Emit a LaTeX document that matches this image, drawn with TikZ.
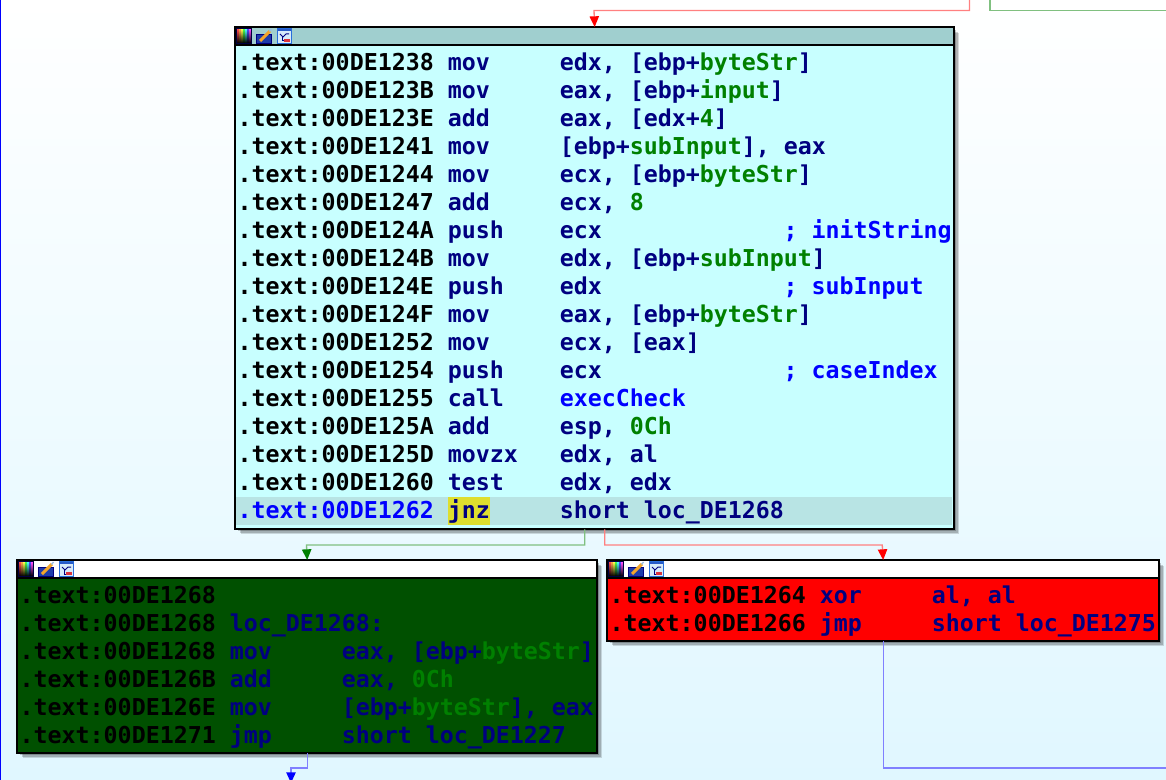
\documentclass[tikz,border=0pt]{standalone}
\usepackage{fontspec}
\usetikzlibrary{arrows.meta}
\newfontfamily\idafont{DejaVu Sans Mono}

\definecolor{asmaddr}{RGB}{0,0,0}
\definecolor{asmins}{RGB}{0,0,128}
\definecolor{asmvar}{RGB}{0,128,0}
\definecolor{asmcom}{RGB}{0,0,255}
\definecolor{mainbody}{RGB}{200,255,255}
\definecolor{mainhead}{RGB}{160,207,207}
\definecolor{mainsel}{RGB}{184,228,228}
\definecolor{jnzmark}{RGB}{222,222,46}
\definecolor{leftbody}{RGB}{0,80,0}

\newcommand{\asmv}[1]{\textcolor{asmvar}{#1}}
\newcommand{\asmline}[3]{\textcolor{asmaddr}{.text:#1} \makebox[84pt][l]{\textcolor{asmins}{#2}}\textcolor{asmins}{#3}}

\tikzset{every picture/.style={line width=0.75pt}}
\tikzset{
  asmtext/.style={anchor=base west,inner sep=0pt,font=\idafont\bfseries\fontsize{17.45pt}{21pt}\selectfont},
  asmnote/.style={asmtext,text=asmcom},
  idablock/.style={draw=black,anchor=north west,inner sep=0pt,line width=1pt,
    preaction={fill=black,opacity=.14,transform canvas={shift={(4.2pt,-4.2pt)}}},
    preaction={fill=black,opacity=.18,transform canvas={shift={(3pt,-3pt)}}},
    preaction={fill=black,opacity=.22,transform canvas={shift={(1.8pt,-1.8pt)}}}},
  redflow/.style={line width=1pt,draw={rgb,255:red,255;green,128;blue,128},-{Triangle[length=8pt,width=7pt,color=red]}},
  greenflow/.style={line width=1pt,draw={rgb,255:red,128;green,192;blue,128},-{Triangle[length=8pt,width=7pt,color={rgb,255:red,0;green,128;blue,0}]}},
  blueflow/.style={line width=1pt,draw={rgb,255:red,128;green,128;blue,255},-{Triangle[length=8pt,width=7pt,color=blue]}},
  idaicons/.pic={
    %rainbow swatch
    \foreach \hue [count=\k from 0] in {red,orange,yellow,green,cyan,blue,magenta}
      {\shade [top color=\hue!70!white,bottom color=black,shading angle=0] (\k*2+1,1) rectangle (\k*2+3,15);}
    \draw [line width=1pt,draw={rgb,255:red,0;green,0;blue,64}] (0.5,0.5) rectangle (15.5,15.5);
    %pencil
    \fill [fill={rgb,255:red,30;green,60;blue,170}] (20,6) rectangle (36,16);
    \draw [draw={rgb,255:red,0;green,0;blue,128}] (20.5,6.5) rectangle (35.5,15.5);
    \draw [line width=2.2pt,draw={rgb,255:red,245;green,165;blue,40}] (24,13) -- (34,3);
    \draw [line width=1pt,draw={rgb,255:red,150;green,190;blue,230}] (33.5,3.5) -- (35.5,1);
    %graph
    \fill [fill={rgb,255:red,215;green,235;blue,250}] (41,0) rectangle (56,16);
    \draw [draw={rgb,255:red,40;green,110;blue,220}] (41.5,0.5) rectangle (55.5,15.5);
    \fill [fill={rgb,255:red,40;green,90;blue,200}] (42,1) rectangle (55,3);
    \draw [draw={rgb,255:red,0;green,0;blue,128}] (44,6) -- (47,9) -- (50,6) -- (53,6);
    \draw [draw={rgb,255:red,0;green,0;blue,128}] (46,9) -- (46,13) -- (48,13);
    \fill [fill={rgb,255:red,220;green,50;blue,60}] (48,11) rectangle (54,14);
  }
}

\begin{document}
\begin{tikzpicture}[x=0.75pt,y=0.75pt,yscale=-1,xscale=1]
\useasboundingbox (0,0) rectangle (1166,780);

%Shape: Background
\shade [top color=white,bottom color={rgb,255:red,224;green,247;blue,255},shading angle=0] (0,0) rectangle (1166,780);

%Free ends
\coordinate (edgetop) at (0.5,0);
\coordinate (edgebottom) at (0.5,780);
\coordinate (redtop) at (969.5,0);
\coordinate (greentop) at (990,0);
\coordinate (greenright) at (1166,10.5);
\coordinate (blueright) at (1166,768);
\coordinate (bluebottom) at (291,783);

%Shape: Blocks
\node (mainbox) [idablock,fill=mainbody,minimum width=538.5pt,minimum height=375.75pt] at (235,27) {};
\node (leftbox) [idablock,fill=leftbody,minimum width=434.25pt,minimum height=144pt] at (17,560) {};
\node (rightbox) [idablock,fill=red,minimum width=413.25pt,minimum height=60pt] at (607,560) {};

%Shape: Headers
\fill [fill=mainhead] (235,27) rectangle (953,45);
\fill [fill=white] (17,560) rectangle (596,578);
\fill [fill=white] (607,560) rectangle (1157.5,578);
\draw [line width=1pt] (235,45) -- (953,45);
\draw [line width=1pt] (17,578) -- (596,578);
\draw [line width=1pt] (607,578) -- (1157.5,578);
\draw [line width=1pt] (mainbox.north west) rectangle (mainbox.south east);
\draw [line width=1pt] (leftbox.north west) rectangle (leftbox.south east);
\draw [line width=1pt] (rightbox.north west) rectangle (rightbox.south east);
\pic [yscale=-1] at (236,28) {idaicons};
\pic [yscale=-1] at (18,561) {idaicons};
\pic [yscale=-1] at (608,561) {idaicons};

%Shape: Selected line
\fill [fill=mainsel] (236,497) rectangle (952,525);
\fill [fill=jnzmark] (447.5,497) rectangle (489.5,525);

%Straight Lines
\draw [blue] (edgetop) -- (edgebottom);
\draw [redflow] (redtop) |- (594,10.5) -- (mainbox.north);
\draw [greenflow,-] (greentop) |- (greenright);
\draw [greenflow] ([xshift=-7.5pt]mainbox.south) |- (306.5,545) -- (leftbox.north);
\draw [redflow] ([xshift=7.5pt]mainbox.south) |- (882.25,545) -- (rightbox.north);
\draw [blueflow] (leftbox.south) |- (291,768) -- (bluebottom);
\draw [blueflow,-] (rightbox.south) |- (blueright);

% Text Node
\node (main1) [asmtext] at (237.2,70.8) {\asmline{00DE1238}{mov}{edx, [ebp+\asmv{byteStr}]}};
\node (main2) [asmtext] at (237.2,98.8) {\asmline{00DE123B}{mov}{eax, [ebp+\asmv{input}]}};
\node (main3) [asmtext] at (237.2,126.8) {\asmline{00DE123E}{add}{eax, [edx+\asmv{4}]}};
\node (main4) [asmtext] at (237.2,154.8) {\asmline{00DE1241}{mov}{[ebp+\asmv{subInput}], eax}};
\node (main5) [asmtext] at (237.2,182.8) {\asmline{00DE1244}{mov}{ecx, [ebp+\asmv{byteStr}]}};
\node (main6) [asmtext] at (237.2,210.8) {\asmline{00DE1247}{add}{ecx, \asmv{8}}};
\node (main7) [asmtext] at (237.2,238.8) {\asmline{00DE124A}{push}{ecx}};
\node (main8) [asmtext] at (237.2,266.8) {\asmline{00DE124B}{mov}{edx, [ebp+\asmv{subInput}]}};
\node (main9) [asmtext] at (237.2,294.8) {\asmline{00DE124E}{push}{edx}};
\node (main10) [asmtext] at (237.2,322.8) {\asmline{00DE124F}{mov}{eax, [ebp+\asmv{byteStr}]}};
\node (main11) [asmtext] at (237.2,350.8) {\asmline{00DE1252}{mov}{ecx, [eax]}};
\node (main12) [asmtext] at (237.2,378.8) {\asmline{00DE1254}{push}{ecx}};
\node (main13) [asmtext] at (237.2,406.8) {\asmline{00DE1255}{call}{\textcolor{asmcom}{execCheck}}};
\node (main14) [asmtext] at (237.2,434.8) {\asmline{00DE125A}{add}{esp, \asmv{0Ch}}};
\node (main15) [asmtext] at (237.2,462.8) {\asmline{00DE125D}{movzx}{edx, al}};
\node (main16) [asmtext] at (237.2,490.8) {\asmline{00DE1260}{test}{edx, edx}};
\node (main17) [asmtext] at (237.2,518.8) {\textcolor{asmcom}{.text:00DE1262} \makebox[84pt][l]{\textcolor{asmins}{jnz}}\textcolor{asmins}{short loc\_DE1268}};
% Text Node
\node (note7) [asmnote] at (783,238.8) {; initString};
\node (note9) [asmnote] at (783,294.8) {; subInput};
\node (note12) [asmnote] at (783,378.8) {; caseIndex};
% Text Node
\node (left1) [asmtext] at (19.2,603) {\textcolor{asmaddr}{.text:00DE1268}};
\node (left2) [asmtext] at (19.2,631) {\textcolor{asmaddr}{.text:00DE1268} \textcolor{asmins}{loc\_DE1268:}};
\node (left3) [asmtext] at (19.2,659) {\asmline{00DE1268}{mov}{eax, [ebp+\asmv{byteStr}]}};
\node (left4) [asmtext] at (19.2,687) {\asmline{00DE126B}{add}{eax, \asmv{0Ch}}};
\node (left5) [asmtext] at (19.2,715) {\asmline{00DE126E}{mov}{[ebp+\asmv{byteStr}], eax}};
\node (left6) [asmtext] at (19.2,743) {\asmline{00DE1271}{jmp}{short loc\_DE1227}};
% Text Node
\node (right1) [asmtext] at (609.2,603) {\asmline{00DE1264}{xor}{al, al}};
\node (right2) [asmtext] at (609.2,631) {\asmline{00DE1266}{jmp}{short loc\_DE1275}};

\end{tikzpicture}
\end{document}
